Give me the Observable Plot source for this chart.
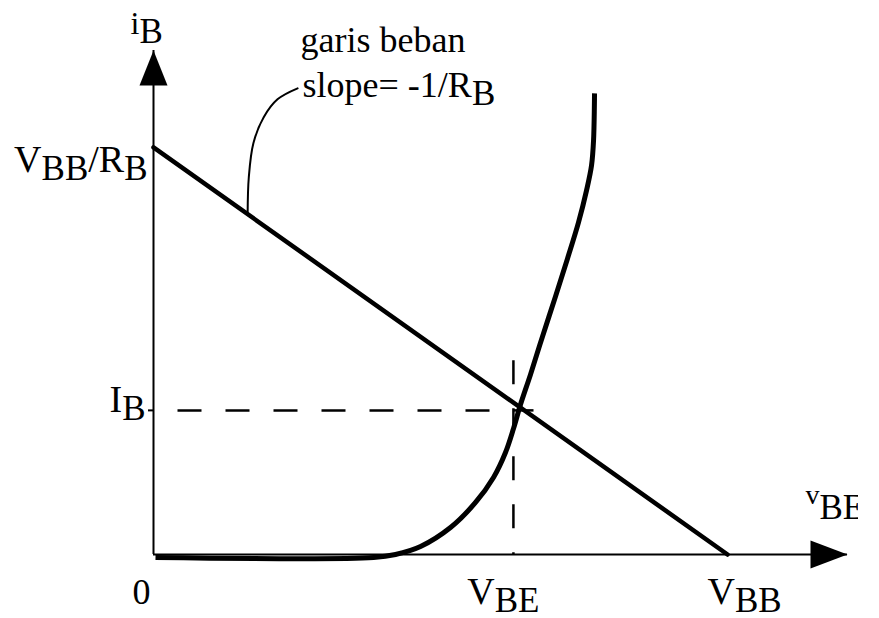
<!DOCTYPE html>
<html>
<head>
<meta charset="utf-8">
<script src="https://cdn.jsdelivr.net/npm/d3@7"></script>
<script src="https://cdn.jsdelivr.net/npm/@observablehq/plot@0.6"></script>
<style>
  html, body { margin: 0; padding: 0; background: #fff; }
</style>
</head>
<body>
<div id="chart"></div>
<script>
// ---- values (units: V_BB = 10 on x, V_BB/R_B = 10 on y) ----
const xTip = 12.09;            // end of v_BE axis (arrow tip)
const yTip = 12.38;            // end of i_B axis (arrow tip)
const VBB = 10;                // x intercept of load line
const VBB_RB = 10;             // y intercept of load line
const VBE = 6.27;              // operating point x
const IB = 3.54;               // operating point y

const loadX = [0, VBB];
const loadY = [VBB_RB, 0];

// diode (input) characteristic
const curveX = [0.035, 3.833, 4.216, 4.652, 5.174, 5.610, 5.923, 6.132, 6.272, 6.394, 6.568, 6.777, 7.003, 7.213, 7.404, 7.544, 7.631, 7.666, 7.683];
const curveY = [-0.074, -0.074, 0.0, 0.197, 0.663, 1.278, 1.892, 2.506, 3.096, 3.686, 4.423, 5.356, 6.339, 7.273, 8.157, 8.943, 9.558, 10.172, 11.327];

// dashed guide extents through the operating point
const guideHX = [0, 6.62];     // horizontal dashed at I_B
const guideVY = [4.77, 0];     // vertical dashed at V_BE

// annotation leader curve
const leaderX = [1.64, 1.66, 1.74, 1.92, 2.16, 2.51];
const leaderY = [8.38, 9.26, 10.10, 10.74, 11.18, 11.45];

// labels
const xTickLabels = ["0", "V_{BE}", "V_{BB}"];
const xTickValues = [0, VBE, VBB];
const yTickLabels = ["I_{B}", "V_{BB}/R_{B}"];
const yTickValues = [IB, VBB_RB];
const yAxisLabel = "i_{B}";
const xAxisLabel = "v_{BE}";
const noteLines = ["garis beban", "slope= -1/R_{B}"];

// ---- drawing ----
const serif = "'Liberation Serif', 'Times New Roman', Times, serif";
const upArrow = {draw(ctx) { ctx.moveTo(0, 0); ctx.lineTo(-14, 35); ctx.lineTo(14, 35); ctx.closePath(); }};
const rightArrow = {draw(ctx) { ctx.moveTo(0, 0); ctx.lineTo(-37, -14); ctx.lineTo(-37, 14); ctx.closePath(); }};

const pts = (xs, ys) => xs.map((x, i) => ({x, y: ys[i]}));

function label(text, x, y, o) {
  return Plot.text([text], {x: [x], y: [y], text: d => d, lineAnchor: "bottom", fontFamily: serif, fill: "black", ...o});
}

const chart = Plot.plot({
  width: 879,
  height: 618,
  marginLeft: 0, marginRight: 21, marginTop: 0, marginBottom: 0,
  x: {domain: [0, xTip], range: [153, 847], axis: null},
  y: {domain: [0, yTip], range: [554, 50], axis: null},
  style: {background: "white", fontFamily: serif},
  marks: [
    // axes
    Plot.ruleX([0], {y1: 0, y2: yTip, stroke: "black", strokeWidth: 2}),
    Plot.ruleY([0], {x1: 0, x2: xTip, stroke: "black", strokeWidth: 2}),
    Plot.dot([{x: 0, y: yTip}], {x: "x", y: "y", symbol: upArrow, fill: "black", stroke: "none"}),
    Plot.dot([{x: xTip, y: 0}], {x: "x", y: "y", symbol: rightArrow, fill: "black", stroke: "none"}),
    // small tick at I_B
    Plot.ruleY([IB], {x1: 0, x2: 0, insetLeft: -5, stroke: "black", strokeWidth: 2}),
    // dashed guides
    Plot.line(guideHX.map(x => ({x, y: IB})), {x: "x", y: "y", stroke: "black", strokeWidth: 2.5, strokeDasharray: "24,24", strokeDashoffset: 24, strokeLinecap: "butt"}),
    Plot.line(guideVY.map(y => ({x: VBE, y})), {x: "x", y: "y", stroke: "black", strokeWidth: 2.5, strokeDasharray: "24,24", strokeLinecap: "butt"}),
    // load line
    Plot.line(pts(loadX, loadY), {x: "x", y: "y", stroke: "black", strokeWidth: 4.5}),
    // diode characteristic
    Plot.line(pts(curveX, curveY), {x: "x", y: "y", stroke: "black", strokeWidth: 5, curve: "catmull-rom", strokeLinecap: "butt"}),
    // leader
    Plot.line(pts(leaderX, leaderY), {x: "x", y: "y", stroke: "black", strokeWidth: 2, curve: "catmull-rom"}),
    // tick labels
    label(xTickLabels[0], xTickValues[0], 0, {textAnchor: "middle", dx: -12, dy: 49, fontSize: 36}),
    label(xTickLabels[1], xTickValues[1], 0, {textAnchor: "middle", dx: -10, dy: 49, fontSize: 38}),
    label(xTickLabels[2], xTickValues[2], 0, {textAnchor: "middle", dx: 17, dy: 49, fontSize: 38}),
    label(yTickLabels[0], 0, yTickValues[0], {textAnchor: "end", dx: -8, dy: 2, fontSize: 38}),
    label(yTickLabels[1], 0, yTickValues[1], {textAnchor: "end", dx: -6, dy: 25, fontSize: 38}),
    // axis labels
    label(yAxisLabel, 0, yTip, {textAnchor: "start", dx: -23, dy: -17, fontSize: 32}),
    label(xAxisLabel, xTip, 0, {textAnchor: "start", dx: -42, dy: -51, fontSize: 28, clip: true}),
    // annotation
    label(noteLines[0], leaderX[leaderX.length - 1], leaderY[leaderY.length - 1], {textAnchor: "start", dx: 3, dy: -36, fontSize: 36}),
    label(noteLines[1], leaderX[leaderX.length - 1], leaderY[leaderY.length - 1], {textAnchor: "start", dx: 5, dy: 9, fontSize: 36})
  ]
});

// turn "_{...}" markup into real subscript tspans
const subShift = {"v_{BE}": 15, "i_{B}": 9};
d3.select(chart).selectAll("text").each(function() {
  const t = this.textContent;
  if (!t.includes("_{")) return;
  const shift = subShift[t] ?? 8;
  const parts = t.split(/(_\{[^}]*\})/).filter(s => s.length);
  this.textContent = "";
  let down = false;
  for (const p of parts) {
    const ts = document.createElementNS("http://www.w3.org/2000/svg", "tspan");
    if (p.startsWith("_{")) {
      ts.textContent = p.slice(2, -1);
      ts.setAttribute("font-size", 35);
      if (!down) { ts.setAttribute("dy", shift); down = true; }
    } else {
      ts.textContent = p;
      if (down) { ts.setAttribute("dy", -shift); down = false; }
    }
    this.appendChild(ts);
  }
});

document.getElementById("chart").appendChild(chart);
</script>
</body>
</html>
